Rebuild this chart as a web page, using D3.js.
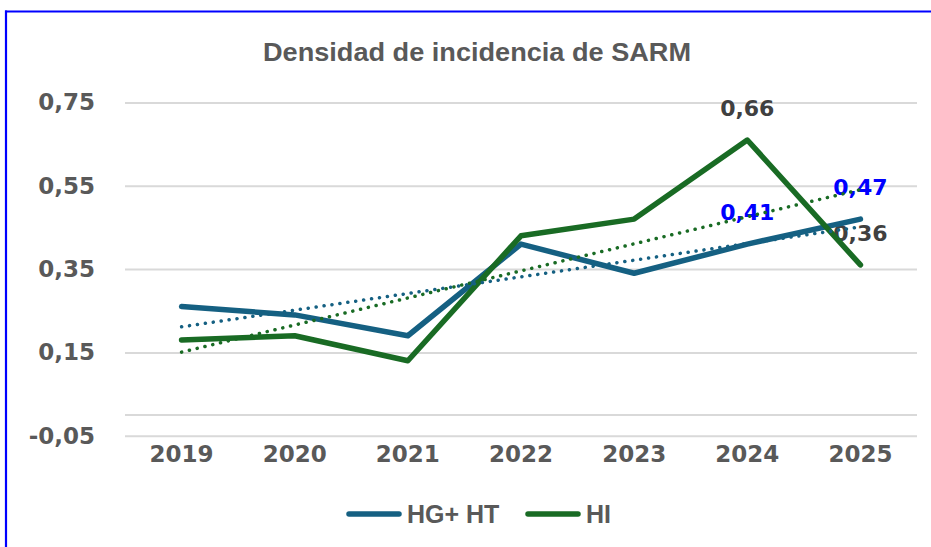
<!DOCTYPE html>
<html>
<head>
<meta charset="utf-8">
<script src="https://cdn.jsdelivr.net/npm/d3@7"></script>
<style>
  body { margin: 0; background: #fff; }
  svg { display: block; }
</style>
</head>
<body>
<script>
// datos
const years = ["2019", "2020", "2021", "2022", "2023", "2024", "2025"];
const hgHt = [0.26, 0.24, 0.19, 0.41, 0.34, 0.41, 0.47];
const hi = [0.18, 0.19, 0.13, 0.43, 0.47, 0.66, 0.36];
const yTicks = [-0.05, 0.15, 0.35, 0.55, 0.75];
const labelYears = ["2024", "2025"];
const seriesNames = ["HG+ HT", "HI"];

const width = 931, height = 547;
const blue = "#156082", green = "#196b24", grey = "#595959";
const numFont = "'DejaVu Sans', sans-serif";

const svg = d3.select("body").append("svg")
  .attr("width", width)
  .attr("height", height);

// marco azul (solo arriba e izquierda se ven)
svg.append("line").attr("x1", 5).attr("x2", width).attr("y1", 11.5).attr("y2", 11.5)
  .attr("stroke", "#0000ff").attr("stroke-width", 2.2);
svg.append("line").attr("x1", 6).attr("x2", 6).attr("y1", 10.5).attr("y2", height)
  .attr("stroke", "#0000ff").attr("stroke-width", 2.2);

const x = d3.scaleBand().domain(years).range([125, 917]);
const y = d3.scaleLinear().domain([-0.05, 0.75]).range([435.7, 102.5]);
const cx = d => x(d) + x.bandwidth() / 2;
const fmt = v => d3.format(".2f")(v).replace(".", ",").replace("\u2212", "-");

// rejilla + etiquetas eje Y
const yAxis = svg.append("g")
  .attr("transform", "translate(125,0)")
  .call(d3.axisLeft(y).tickValues(yTicks).tickSize(-792).tickFormat(fmt).tickPadding(30));
yAxis.select(".domain").remove();
yAxis.selectAll(".tick line").attr("stroke", "#d9d9d9").attr("stroke-width", 2);
yAxis.selectAll(".tick text")
  .attr("fill", grey)
  .attr("font-family", numFont)
  .attr("font-weight", "bold")
  .attr("font-size", 23);

// linea del eje horizontal en 0
svg.append("line").attr("x1", 125).attr("x2", 917).attr("y1", y(0)).attr("y2", y(0))
  .attr("stroke", "#d9d9d9").attr("stroke-width", 2);

// etiquetas eje X
const xAxis = svg.append("g")
  .attr("transform", "translate(0,445)")
  .call(d3.axisBottom(x).tickSize(0).tickPadding(0));
xAxis.select(".domain").remove();
xAxis.selectAll(".tick text")
  .attr("fill", grey)
  .attr("font-family", numFont)
  .attr("font-weight", "bold")
  .attr("font-size", 23)
  .attr("dy", "0.72em");

// titulo
svg.append("text")
  .attr("x", 477).attr("y", 61)
  .attr("text-anchor", "middle")
  .attr("fill", grey)
  .attr("font-family", "'Liberation Sans', Arial, sans-serif")
  .attr("font-weight", "bold")
  .attr("font-size", 25)
  .attr("textLength", 428)
  .attr("lengthAdjust", "spacingAndGlyphs")
  .text("Densidad de incidencia de SARM");

// etiquetas de datos (debajo de las lineas como en el original)
const labels = [
  { vals: hgHt, color: "#0000ff" },
  { vals: hi, color: "#404040" }
];
labels.forEach(s => {
  labelYears.forEach(yr => {
    const i = years.indexOf(yr);
    svg.append("text")
      .attr("x", cx(yr)).attr("y", y(s.vals[i]) - 24)
      .attr("text-anchor", "middle")
      .attr("fill", s.color)
      .attr("font-family", numFont)
      .attr("font-weight", "bold")
      .attr("font-size", 22)
      .text(fmt(s.vals[i]));
  });
});

const line = d3.line().x((d, i) => cx(years[i])).y(d => y(d));

[[hgHt, blue], [hi, green]].forEach(([vals, col]) => {
  svg.append("path")
    .datum(vals)
    .attr("d", line)
    .attr("fill", "none")
    .attr("stroke", col)
    .attr("stroke-width", 5.5)
    .attr("stroke-linejoin", "round")
    .attr("stroke-linecap", "round");
});

// lineas de tendencia lineal (minimos cuadrados)
function trend(vals) {
  const n = vals.length;
  const xs = d3.range(1, n + 1);
  const mx = d3.mean(xs), my = d3.mean(vals);
  const b = d3.sum(xs, (xv, i) => (xv - mx) * (vals[i] - my)) / d3.sum(xs, xv => (xv - mx) ** 2);
  const a = my - b * mx;
  return [a + b * 1, a + b * n];
}
[[hgHt, blue], [hi, green]].forEach(([vals, col]) => {
  const t = trend(vals);
  svg.append("line")
    .attr("x1", cx(years[0])).attr("y1", y(t[0]))
    .attr("x2", cx(years[years.length - 1])).attr("y2", y(t[1]))
    .attr("stroke", col)
    .attr("stroke-width", 3.5)
    .attr("stroke-linecap", "round")
    .attr("stroke-dasharray", "0.1 7.9");
});

// leyenda
const legend = [
  { name: seriesNames[0], color: blue, x0: 347 },
  { name: seriesNames[1], color: green, x0: 526 }
];
legend.forEach(l => {
  svg.append("line")
    .attr("x1", l.x0 + 2).attr("x2", l.x0 + 52)
    .attr("y1", 514).attr("y2", 514)
    .attr("stroke", l.color).attr("stroke-width", 5.5)
    .attr("stroke-linecap", "round");
  svg.append("text")
    .attr("x", l.x0 + 60).attr("y", 523)
    .attr("fill", grey)
    .attr("font-family", "'Liberation Sans', Arial, sans-serif")
    .attr("font-weight", "bold")
    .attr("font-size", 25)
    .text(l.name);
});
</script>
</body>
</html>
